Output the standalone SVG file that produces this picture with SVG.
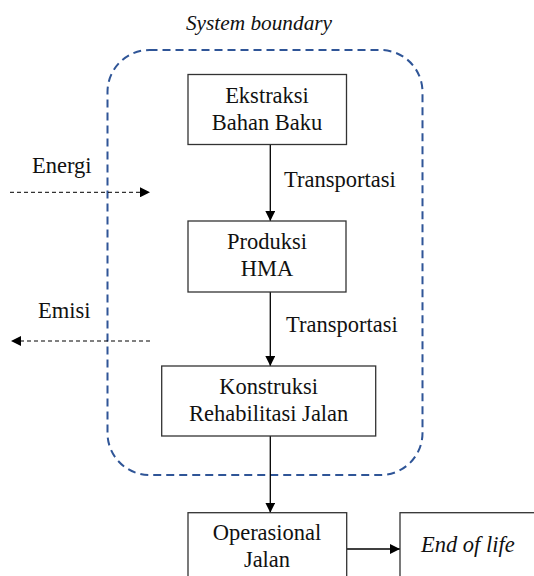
<svg xmlns="http://www.w3.org/2000/svg" width="534" height="576" viewBox="0 0 534 576">
<style>
text{font-family:'Liberation Serif','Times New Roman',serif;font-size:22.5px;fill:#111}
.c{text-anchor:middle}
.i{font-style:italic}
.box{fill:#fff;stroke:#333;stroke-width:1.3}
.flow{stroke:#000;stroke-width:1.3;fill:none}
.dash{stroke:#000;stroke-width:1;stroke-dasharray:4 3;fill:none}
</style>
<defs>
<marker id="ah" viewBox="0 0 10 10" refX="10" refY="5" markerWidth="10" markerHeight="10" markerUnits="userSpaceOnUse" orient="auto">
<path d="M0,0 L10,5 L0,10 z" fill="#000"/>
</marker>
</defs>
<text class="c i" x="259" y="30" style="font-size:21.3px">System boundary</text>
<rect id="boundary" x="107.5" y="50" width="315" height="425" rx="42" ry="42" fill="none" stroke="#2F5597" stroke-width="2" stroke-dasharray="8 5"/>
<g id="connectors">
<line class="flow" x1="270.3" y1="144.5" x2="270.3" y2="221" marker-end="url(#ah)"/>
<line class="flow" x1="270.3" y1="292" x2="270.3" y2="366" marker-end="url(#ah)"/>
<line class="flow" x1="270.3" y1="436" x2="270.3" y2="512.7" marker-end="url(#ah)"/>
<line class="flow" x1="347" y1="549" x2="400" y2="549" marker-end="url(#ah)"/>
<line class="dash" x1="10" y1="192.3" x2="150" y2="192.3" marker-end="url(#ah)"/>
<line class="dash" x1="150" y1="341" x2="11" y2="341" marker-end="url(#ah)"/>
<text x="284" y="187">Transportasi</text>
<text x="286" y="332">Transportasi</text>
<text x="32" y="173">Energi</text>
<text x="38" y="318">Emisi</text>
</g>
<g id="ekstraksi">
<rect class="box" x="188" y="74.5" width="158.5" height="70"/>
<text class="c" x="267" y="103">Ekstraksi</text>
<text class="c" x="267" y="130">Bahan Baku</text>
</g>
<g id="produksi">
<rect class="box" x="188" y="221" width="158" height="71"/>
<text class="c" x="267" y="249">Produksi</text>
<text class="c" x="267" y="276">HMA</text>
</g>
<g id="konstruksi">
<rect class="box" x="161.7" y="366" width="214" height="70"/>
<text class="c" x="268.7" y="394">Konstruksi</text>
<text class="c" x="268.7" y="420.7">Rehabilitasi Jalan</text>
</g>
<g id="operasional">
<rect class="box" x="188" y="512.7" width="158.7" height="70"/>
<text class="c" x="267" y="540">Operasional</text>
<text class="c" x="267" y="566.7">Jalan</text>
</g>
<g id="endoflife">
<rect class="box" x="400" y="512.7" width="140" height="70"/>
<text class="i" x="421" y="552">End of life</text>
</g>
</svg>
